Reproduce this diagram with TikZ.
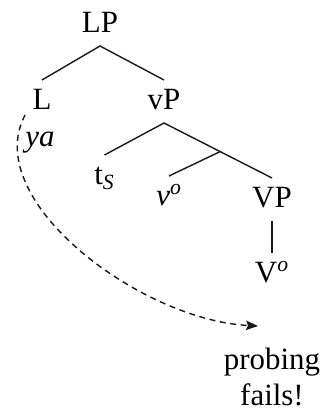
\documentclass[tikz,border=0pt]{standalone}
\usepackage{fontspec}
\setmainfont{Liberation Serif}
\usetikzlibrary{arrows.meta,calc}

\definecolor{trtext}{RGB}{0,0,0}
\definecolor{trline}{RGB}{25,25,25}

\begin{document}
\begin{tikzpicture}[
  x=1cm,
  y=1cm,
  >={Stealth[length=2.4mm, width=1.9mm, inset=0.4mm]},
  every node/.style={inner sep=0pt, outer sep=0pt},
  trNode/.style={font=\fontsize{17.6}{20.4}\selectfont, text=trtext, anchor=base, text height=0.6cm, text depth=0.26cm},
  trNote/.style={font=\fontsize{17.6}{20.4}\selectfont, text=trtext, align=center},
  trEdge/.style={draw=trline, line width=0.8pt},
  trProbe/.style={draw=trline, line width=0.8pt, dash pattern=on 3.4pt off 2.6pt, ->}
]

  \path[use as bounding box] (0,0) rectangle (6.56,8.20);

  % tree
  \node[trNode] (lp) at (2.00,7.54) {LP};
  \node[trNode] (l) at (0.84,6.00) {L};
  \node[trNode] (vp) at (3.28,6.00) {vP};
  \node[trNode] (ts) at (2.09,4.50) {t\textsubscript{\textit{S}}};
  \node[trNode] (vo) at (3.38,4.08) {\textit{v}\textsuperscript{\textit{o}}};
  \node[trNode] (vvp) at (5.44,4.04) {VP};
  \node[trNode] (vhead) at (5.44,2.54) {V\textsuperscript{\textit{o}}};

  \node[trNote, anchor=base] (ya) at (0.80,5.26) {\textit{ya}};
  \node[trNote, anchor=north] (probe) at (5.44,1.24) {probing\\fails!};

  \coordinate (vbar) at ($(vp.south)!0.52!(vvp.north)$);

  \draw[trEdge] (l.north) -- (lp.south) -- (vp.north);
  \draw[trEdge] (ts.north) -- (vp.south) -- (vbar) -- (vvp.north);
  \draw[trEdge] (vbar) -- (vo.north);
  \draw[trEdge] (vvp.south) -- (vhead.north);

  % failed probe
  \draw[trProbe] ([shift={(-0.15,0.16)}]l.south west)
    .. controls +(-0.90,-1.70) and +(-2.36,0.12) .. ([shift={(-0.28,0.44)}]probe.north);

\end{tikzpicture}
\end{document}
